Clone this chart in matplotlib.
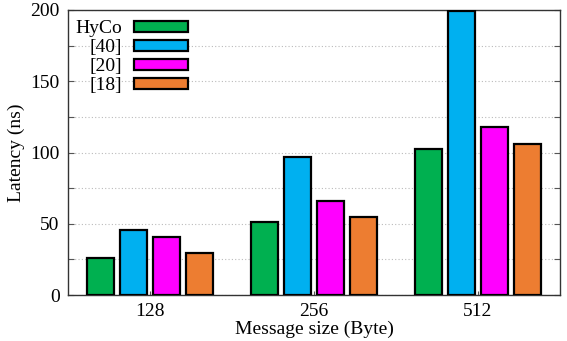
import matplotlib
matplotlib.use("Agg")
import matplotlib.pyplot as plt
import numpy as np
from matplotlib.ticker import MultipleLocator

categories = ["128", "256", "512"]
series_names = ["HyCo", "[40]", "[20]", "[18]"]
hyco = [26, 51, 102.5]
ref40 = [45.5, 97, 199]
ref20 = [40.5, 66, 117.7]
ref18 = [29.5, 55, 105.8]
colors = ["#00B050", "#00B0F0", "#FF00FF", "#ED7D31"]

plt.rcParams['font.family'] = ['Liberation Serif', 'DejaVu Serif']

fig = plt.figure(figsize=(5.67, 3.41), dpi=100)
ax = fig.add_axes([68/567, 1 - 295/341, (560-68)/567, (295-10)/341])

x = np.arange(len(categories))
width = 0.165
offsets = [-0.3, -0.1, 0.1, 0.3]
for vals, name, col, off in zip([hyco, ref40, ref20, ref18], series_names, colors, offsets):
    ax.bar(x + off, vals, width, color=col, edgecolor="black", linewidth=1.6,
           label=name, zorder=3)

ax.set_xlim(-0.5, 2.5)
ax.set_ylim(0, 200)
ax.set_xticks(x)
ax.set_xticklabels(categories)
ax.yaxis.set_major_locator(MultipleLocator(50))
ax.yaxis.set_minor_locator(MultipleLocator(25))
ax.grid(axis="y", which="both", linestyle=(0, (1, 2)), color="#bbbbbb", linewidth=0.8, zorder=0)
ax.tick_params(axis="both", which="both", direction="in", labelsize=14)
ax.tick_params(axis="y", which="both", right=True, length=4, width=0.8, color="#555555", pad=6)
ax.tick_params(axis="x", length=3, width=0.8, color="#555555", pad=6)
for s in ax.spines.values():
    s.set_color("#333333")
    s.set_linewidth(1.0)

ax.set_ylabel("Latency (ns)", fontsize=14, labelpad=4)
ax.set_xlabel("Message size (Byte)", fontsize=14, labelpad=0)

leg = ax.legend(loc="upper left", markerfirst=False, frameon=False, fontsize=14,
                handlelength=2.75, handleheight=0.5, handletextpad=0.6,
                labelspacing=0.1, borderaxespad=0.2, bbox_to_anchor=(-0.008, 1.005))

fig.savefig("out.png", dpi=100)
